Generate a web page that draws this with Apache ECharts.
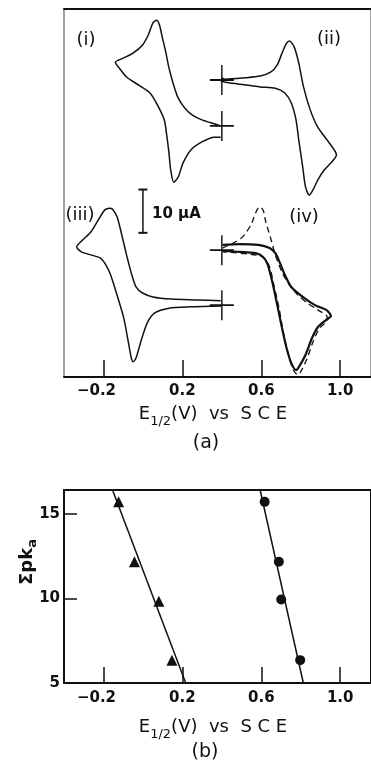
<!DOCTYPE html>
<html>
<head>
<meta charset="utf-8">
<style>
html, body { margin: 0; padding: 0; background: #fff; }
#chart { width: 371px; height: 763px; }
</style>
</head>
<body>
<div id="chart"></div>
<script src="https://cdn.jsdelivr.net/npm/echarts@6.0.0/dist/echarts.min.js"></script>
<script>
// potential ticks (V vs SCE), shared by both panels
var eTicks = [-0.2, 0.2, 0.6, 1.0];
var pkaTicks = [5, 10, 15];

// (a) cyclic voltammograms, [E (V), current (uA, arbitrary offset)]
var cv1 = [[0.394,58.0],[0.370,58.4],[0.299,59.4],[0.251,60.5],[0.213,62.1],[0.179,64.4],[0.156,67.4],[0.132,71.4],[0.117,74.8],[0.098,78.5],[0.084,81.3],[0.070,82.4],[0.051,81.8],[0.027,79.0],[-0.002,76.7],[-0.050,74.8],[-0.097,73.7],[-0.140,72.7],[-0.121,71.4],[-0.083,69.3],[-0.021,67.4],[0.036,65.6],[0.074,62.8],[0.108,59.4],[0.122,55.4],[0.132,51.7],[0.141,47.8],[0.156,45.0],[0.179,46.2],[0.203,49.4],[0.242,52.4],[0.299,54.3],[0.361,55.4],[0.394,55.4]];
var cv2 = [[0.399,69.1],[0.418,68.8],[0.514,69.1],[0.595,69.5],[0.647,70.4],[0.681,72.1],[0.705,74.8],[0.728,77.1],[0.743,77.6],[0.767,76.2],[0.790,72.5],[0.814,67.0],[0.848,61.7],[0.886,57.7],[0.934,54.7],[0.981,51.3],[0.958,49.7],[0.919,47.8],[0.886,45.5],[0.862,43.2],[0.843,42.0],[0.824,43.9],[0.810,48.5],[0.790,54.7],[0.776,59.4],[0.752,63.3],[0.719,65.6],[0.671,66.7],[0.595,67.0],[0.480,67.7],[0.418,68.1],[0.394,68.4]];
var cv3 = [[0.394,17.6],[0.275,17.8],[0.146,18.0],[0.051,18.5],[-0.002,19.4],[-0.035,20.8],[-0.059,24.0],[-0.083,28.2],[-0.107,32.8],[-0.131,37.0],[-0.155,38.8],[-0.169,39.0],[-0.193,38.6],[-0.226,36.3],[-0.264,33.5],[-0.307,31.6],[-0.336,30.0],[-0.312,28.9],[-0.264,28.2],[-0.217,27.5],[-0.188,25.9],[-0.164,23.6],[-0.131,18.9],[-0.097,13.6],[-0.074,8.1],[-0.059,4.4],[-0.050,3.5],[-0.035,4.4],[-0.011,8.1],[0.022,12.5],[0.060,14.8],[0.132,15.9],[0.242,16.2],[0.399,16.4]];
var cv4 = [[0.404,30.5],[0.490,30.7],[0.585,30.5],[0.642,29.8],[0.671,28.6],[0.695,26.3],[0.719,23.6],[0.752,20.8],[0.810,18.5],[0.872,16.6],[0.929,15.5],[0.953,14.1],[0.929,13.2],[0.886,11.5],[0.857,9.0],[0.824,5.1],[0.790,2.3],[0.776,1.6],[0.752,3.2],[0.728,6.7],[0.705,11.3],[0.681,16.6],[0.657,21.7],[0.633,25.9],[0.609,27.7],[0.571,28.6],[0.490,28.9],[0.404,29.1]];
var cv4b = [[0.404,29.8],[0.456,30.9],[0.504,32.3],[0.547,35.1],[0.571,37.9],[0.590,39.3],[0.609,38.6],[0.623,35.8],[0.647,32.1],[0.671,28.2],[0.705,24.2],[0.743,21.2],[0.786,18.9],[0.833,17.1],[0.886,15.5],[0.934,13.9],[0.929,12.7],[0.895,11.3],[0.862,8.1],[0.833,4.4],[0.800,1.2],[0.786,0.5],[0.762,1.6],[0.738,5.1],[0.714,9.7],[0.690,15.9],[0.666,20.8],[0.642,25.4],[0.609,27.7],[0.537,28.4],[0.404,28.9]];
// start potential of each scan (the "+" marks)
var starts = [[0.4,58.0],[0.4,68.6],[0.4,16.6],[0.4,29.3]];
// 10 uA scale bar
var scaleBar = [[0,33.3],[0,43.3]];

// (b) sum pKa vs E1/2
var triE = [-0.123, -0.043, 0.081, 0.147];
var triPka = [15.7, 12.16, 9.83, 6.35];
var dotE = [0.617, 0.689, 0.701, 0.797];
var dotPka = [15.7, 12.16, 9.93, 6.35];
var fitA = [[-0.154,16.4],[0.217,5.0]];
var fitB = [[0.594,16.4],[0.813,5.0]];

var ink = '#111';
var font = 'DejaVu Sans';

function pairs(xs, ys) {
    return xs.map(function (x, i) { return [x, ys[i]]; });
}

var myChart = echarts.init(document.getElementById('chart'));

function eAxis(grid, tickLen, margin) {
    return {
        gridIndex: grid,
        type: 'value',
        min: -0.4,
        max: 1.156,
        axisLine: { show: true, onZero: false, lineStyle: { color: ink, width: 2 } },
        axisTick: { show: true, inside: true, length: tickLen, customValues: eTicks, lineStyle: { color: ink, width: 1.5 } },
        axisLabel: {
            show: true,
            customValues: eTicks,
            margin: margin,
            color: ink,
            fontFamily: font,
            fontWeight: 'bold',
            fontSize: 15,
            formatter: function (v) {
                if (v < 0) return '{neg|\u2212' + Math.abs(v).toFixed(1) + '}';
                return v.toFixed(1);
            },
            rich: {
                neg: { color: ink, fontFamily: font, fontWeight: 'bold', fontSize: 15, padding: [0, 14, 0, 0] }
            }
        },
        splitLine: { show: false }
    };
}

var titleRich = {
    m: { fontFamily: font, fontSize: 18, fill: ink, color: ink },
    s: { fontFamily: font, fontSize: 13, fill: ink, color: ink, padding: [16, 0, 0, 0] }
};
var eTitle = '{m|E}{s|1/2}{m|(V)  vs  S C E}';

function txt(x, y, text, size, weight) {
    return {
        type: 'text', x: x, y: y,
        style: {
            text: text, fill: ink,
            font: (weight || 'normal') + ' ' + size + 'px "' + font + '"',
            textAlign: 'center', textVerticalAlign: 'middle'
        }
    };
}

option = {
    backgroundColor: '#fff',
    animation: false,
    grid: [
        { left: 64, top: 9, width: 326, height: 368, show: true, borderColor: '#444', borderWidth: 1 },
        { left: 64, top: 490, width: 326, height: 193, show: true, borderColor: ink, borderWidth: 2 }
    ],
    xAxis: [
        eAxis(0, 17, 7),
        eAxis(1, 16, 8),
        {
            gridIndex: 0, type: 'value', position: 'top', min: -0.4, max: 1.156,
            axisLine: { show: true, onZero: false, lineStyle: { color: ink, width: 2 } },
            axisTick: { show: false }, axisLabel: { show: false }, splitLine: { show: false }
        }
    ],
    yAxis: [
        { gridIndex: 0, type: 'value', min: 0, max: 85, show: false },
        {
            gridIndex: 1, type: 'value', min: 5, max: 16.4,
            axisLine: { show: true, onZero: false, lineStyle: { color: ink, width: 2 } },
            axisTick: { show: true, inside: true, length: 13, customValues: pkaTicks, lineStyle: { color: ink, width: 1.5 } },
            axisLabel: { show: true, customValues: pkaTicks, margin: 4, color: ink, fontFamily: font, fontWeight: 'bold', fontSize: 15 },
            splitLine: { show: false }
        }
    ],
    graphic: [
        txt(86, 40, '(i)', 18),
        txt(329, 39, '(ii)', 18),
        txt(80, 215, '(iii)', 18),
        txt(304, 217, '(iv)', 18),
        {
            type: 'text', x: 152, y: 214,
            style: { text: '10 \u00b5A', fill: ink, font: 'bold 15px "' + font + '"', textAlign: 'left', textVerticalAlign: 'middle' }
        },
        {
            type: 'text', x: 213, y: 414,
            style: { text: eTitle, rich: titleRich, fill: ink, font: '18px "' + font + '"', textAlign: 'center', textVerticalAlign: 'middle' }
        },
        txt(206, 443, '(a)', 19),
        {
            type: 'text', x: 213, y: 727,
            style: { text: eTitle, rich: titleRich, fill: ink, font: '18px "' + font + '"', textAlign: 'center', textVerticalAlign: 'middle' }
        },
        txt(205, 752, '(b)', 19),
        {
            type: 'text', x: 27, y: 562, rotation: Math.PI / 2,
            style: {
                text: '{m|\u03a3pk}{s|a}', fill: ink, font: '18px "' + font + '"',
                textAlign: 'center', textVerticalAlign: 'middle',
                rich: {
                    m: { fontFamily: font, fontSize: 18, fontWeight: 'bold', fill: ink, color: ink },
                    s: { fontFamily: font, fontSize: 13, fontWeight: 'bold', fill: ink, color: ink, padding: [12, 0, 0, 0] }
                }
            }
        }
    ],
    series: [
        { type: 'line', xAxisIndex: 0, yAxisIndex: 0, data: cv1, showSymbol: false, smooth: 0.25, lineStyle: { color: ink, width: 1.5 } },
        { type: 'line', xAxisIndex: 0, yAxisIndex: 0, data: cv2, showSymbol: false, smooth: 0.25, lineStyle: { color: ink, width: 1.5 } },
        { type: 'line', xAxisIndex: 0, yAxisIndex: 0, data: cv3, showSymbol: false, smooth: 0.25, lineStyle: { color: ink, width: 1.5 } },
        { type: 'line', xAxisIndex: 0, yAxisIndex: 0, data: cv4, showSymbol: false, smooth: 0.25, lineStyle: { color: ink, width: 2.2 } },
        { type: 'line', xAxisIndex: 0, yAxisIndex: 0, data: cv4b, showSymbol: false, smooth: 0.25, lineStyle: { color: ink, width: 1.3, type: [6, 4] } },
        {
            type: 'scatter', xAxisIndex: 0, yAxisIndex: 0, data: starts,
            symbol: 'path://M0,15H24M12,0V30', symbolSize: [24, 30],
            itemStyle: { color: 'none', borderColor: ink, borderWidth: 1.6, opacity: 1 }
        },
        {
            type: 'line', xAxisIndex: 0, yAxisIndex: 0, data: scaleBar,
            symbol: 'rect', symbolSize: [9, 2], showSymbol: true,
            itemStyle: { color: ink }, lineStyle: { color: ink, width: 1.5 }
        },
        { type: 'line', xAxisIndex: 1, yAxisIndex: 1, data: fitA, showSymbol: false, lineStyle: { color: ink, width: 1.5 } },
        { type: 'line', xAxisIndex: 1, yAxisIndex: 1, data: fitB, showSymbol: false, lineStyle: { color: ink, width: 1.5 } },
        { type: 'scatter', xAxisIndex: 1, yAxisIndex: 1, data: pairs(triE, triPka), symbol: 'triangle', symbolSize: 11, itemStyle: { color: ink, opacity: 1 } },
        { type: 'scatter', xAxisIndex: 1, yAxisIndex: 1, data: pairs(dotE, dotPka), symbol: 'circle', symbolSize: 10, itemStyle: { color: ink, opacity: 1 } }
    ]
};

myChart.setOption(option);
</script>
</body>
</html>
